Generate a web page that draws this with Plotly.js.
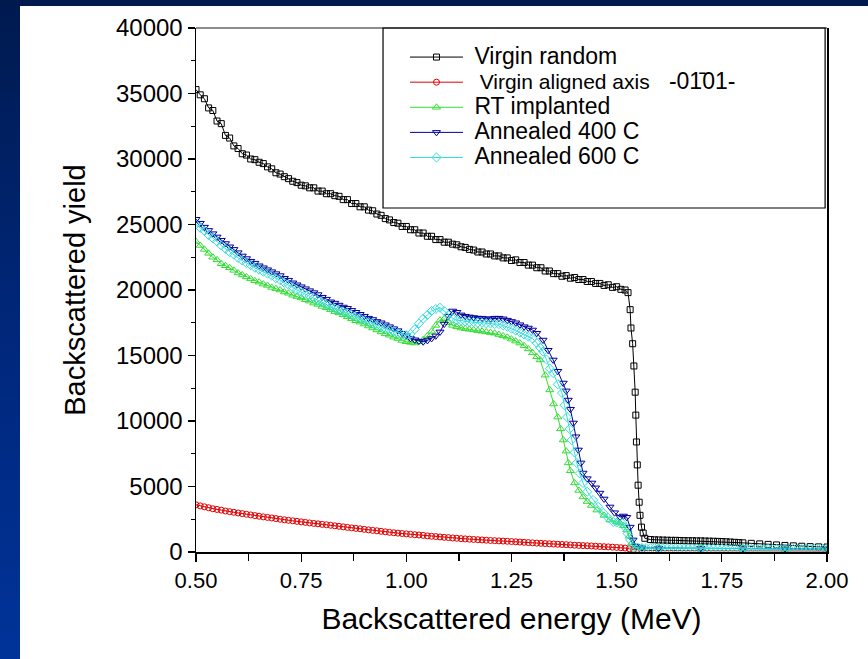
<!DOCTYPE html>
<html>
<head>
<meta charset="utf-8">
<script src="https://cdn.plot.ly/plotly-3.0.1.min.js"></script>
<style>
  html, body { margin:0; padding:0; width:868px; height:659px; overflow:hidden; }
  body { background: linear-gradient(180deg, #001a4f 0%, #00277a 50%, #003399 100%); position:relative; }
  #plot { position:absolute; left:20px; top:6px; width:848px; height:653px; background:#ffffff; }
</style>
</head>
<body>
<div id="plot"></div>
<script>
// Shared energy grid (MeV), 0.50 .. 1.30
const energyMain = [0.50,0.51,0.52,0.53,0.54,0.55,0.56,0.57,0.58,0.59,
  0.60,0.61,0.62,0.63,0.64,0.65,0.66,0.67,0.68,0.69,
  0.70,0.71,0.72,0.73,0.74,0.75,0.76,0.77,0.78,0.79,
  0.80,0.81,0.82,0.83,0.84,0.85,0.86,0.87,0.88,0.89,
  0.90,0.91,0.92,0.93,0.94,0.95,0.96,0.97,0.98,0.99,
  1.00,1.01,1.02,1.03,1.04,1.05,1.06,1.07,1.08,1.09,
  1.10,1.11,1.12,1.13,1.14,1.15,1.16,1.17,1.18,1.19,
  1.20,1.21,1.22,1.23,1.24,1.25,1.26,1.27,1.28,1.29,1.30];

// Virgin random
const randomMain = [35300,34900,34600,33900,33700,32900,32700,31800,31600,31000,
  30800,30400,30300,30000,29950,29750,29650,29400,29250,28950,
  28850,28650,28500,28300,28200,28000,27950,27800,27800,27550,
  27550,27350,27350,27200,27150,26900,26900,26600,26600,26350,
  26350,26100,26050,25800,25700,25450,25350,25150,25100,24850,
  24850,24600,24600,24350,24350,24100,24100,23850,23850,23650,
  23650,23500,23450,23300,23250,23100,23050,22900,22900,22750,
  22750,22600,22600,22450,22450,22250,22300,22100,22100,21900,21900];
const randomEdgeE = [1.31,1.32,1.33,1.34,1.35,1.36,1.37,1.38,1.39,1.40,1.41,1.42,1.43,1.44,1.45,1.46,1.47,1.48,1.49,1.50,1.51,1.52,1.527,
  1.532,1.534,1.538,1.541,1.544,1.5455,1.547,1.549,1.551,1.5535,1.5555,1.559,1.563,1.567,
  1.58,1.59,1.60,1.61,1.62,1.63,1.64,1.65,1.66,1.67,1.68,1.69,1.70,1.71,1.72,1.73,1.74,1.75,1.76,1.77,1.78,1.79,1.80,
  1.82,1.84,1.86,1.88,1.90,1.92,1.94,1.96,1.98,2.00];
const randomEdgeY = [21700,21700,21450,21450,21250,21250,21050,21100,20900,20950,20800,20800,20650,20650,20500,20500,20350,20400,20200,20250,20050,20000,19800,
  18500,17100,15900,14200,12200,10450,8400,6650,5100,3800,2800,1900,1450,1050,
  950,930,920,910,900,890,890,880,870,860,860,850,850,840,830,820,810,800,780,760,740,720,700,
  660,620,580,540,500,470,440,410,390,380];

// Virgin aligned axis
const alignedMain = [3600,3520,3450,3380,3300,3250,3200,3130,3080,3030,
  2980,2930,2880,2830,2780,2730,2680,2640,2600,2550,
  2500,2460,2420,2380,2340,2300,2260,2220,2180,2150,
  2110,2080,2040,2000,1960,1920,1880,1840,1800,1770,
  1730,1690,1650,1620,1580,1540,1500,1470,1440,1410,
  1380,1350,1320,1300,1270,1230,1200,1180,1150,1120,
  1100,1070,1050,1020,1000,980,960,940,920,900,
  880,865,850,835,820,800,780,760,740,720,700];
const alignedEdgeE = [1.31,1.32,1.33,1.34,1.35,1.36,1.37,1.38,1.39,1.40,1.41,1.42,1.43,1.44,1.45,1.46,1.47,1.48,1.49,1.50,1.51,1.52,1.53,1.54,1.56,1.60,1.70,1.80,1.90,2.00];
const alignedEdgeY = [680,660,645,630,610,590,575,560,540,520,505,490,475,460,440,420,405,390,370,350,325,300,250,200,130,110,100,90,80,70];

// RT implanted
const rtMain = [23700,23400,23100,22800,22500,22300,22000,21850,21700,21500,
  21300,21150,21000,20850,20700,20600,20450,20350,20200,20100,
  20000,19850,19750,19600,19500,19400,19250,19150,19000,18900,
  18750,18650,18500,18350,18250,18100,17950,17800,17650,17550,
  17400,17250,17100,16950,16800,16650,16550,16400,16300,16150,
  16050,16000,15950,16050,16200,16500,16850,17300,17700,17800,
  17500,17300,17200,17100,17050,17000,16950,16900,16850,16800,
  16750,16700,16600,16500,16400,16250,16100,15950,15750,15500,15200];
const rtEdgeE = [1.31,1.318,1.33,1.341,1.35,1.36,1.367,1.373,1.38,1.385,1.39,1.40,1.41,1.42,1.43,1.44,1.453,1.47,1.484,1.50,1.508,1.516,1.524,1.53,1.536,1.545,1.56,1.60,1.70,1.80,1.90,2.00];
const rtEdgeY = [14900,14660,13500,12370,11300,10300,9400,8550,7700,6800,6200,5270,4700,4200,3850,3550,3200,2800,2440,2300,2210,2000,1680,1200,690,400,320,300,280,260,240,220];

// Annealed 400 C
const a400Main = [25400,25100,24800,24550,24300,24050,23800,23550,23300,23100,
  22850,22600,22400,22200,22050,21850,21700,21550,21400,21250,
  21100,20900,20750,20550,20400,20250,20100,19950,19800,19650,
  19450,19300,19100,19000,18850,18700,18600,18450,18300,18150,
  18000,17850,17750,17600,17500,17350,17200,17050,16900,16700,
  16500,16300,16200,16100,16050,16150,16300,16500,16800,17400,
  18000,18400,18300,18100,18000,17950,17900,17850,17850,17800,
  17800,17850,17850,17800,17700,17600,17500,17350,17200,17100,16950];
const a400EdgeE = [1.31,1.325,1.337,1.349,1.36,1.373,1.38,1.385,1.39,1.397,1.403,1.409,1.415,1.42,1.43,1.441,1.45,1.46,1.47,1.484,1.495,1.508,1.516,1.524,1.532,1.539,1.545,1.56,1.60,1.70,1.80,1.90,2.00];
const a400EdgeY = [16700,16180,15400,14660,13800,12900,12300,11600,10900,9850,8800,7790,6800,6030,5600,5270,4900,4500,4050,3440,3000,2670,2750,2650,1900,920,450,320,300,280,260,240,220];

// Annealed 600 C
const a600Main = [25000,24750,24500,24200,23950,23700,23400,23150,22900,22700,
  22450,22250,22050,21900,21700,21550,21400,21250,21100,20900,
  20750,20550,20400,20200,20000,19850,19700,19550,19400,19200,
  19050,18900,18700,18600,18450,18350,18250,18100,17950,17850,
  17700,17550,17450,17300,17200,17050,16950,16850,16700,16600,
  16550,16650,17000,17450,17800,18100,18400,18550,18650,18400,
  18100,17850,17700,17650,17600,17550,17550,17500,17500,17450,
  17450,17400,17400,17300,17200,17050,16900,16750,16600,16450,16300];
const a600EdgeE = [1.31,1.318,1.325,1.333,1.341,1.349,1.36,1.37,1.376,1.382,1.388,1.393,1.40,1.405,1.412,1.42,1.43,1.444,1.456,1.468,1.48,1.492,1.50,1.513,1.52,1.526,1.532,1.539,
  1.55,1.56,1.57,1.58,1.59,1.60,1.61,1.62,1.63,1.64,1.65,1.66,1.67,1.68,1.69,1.70,1.71,1.72,1.73,1.74,1.75,1.76,1.77,1.78,1.79,1.80,
  1.81,1.82,1.83,1.84,1.85,1.86,1.87,1.88,1.89,1.90,1.91,1.92,1.93,1.94,1.95,1.96,1.97,1.98,1.99,2.00];
const a600EdgeY = [15950,15600,15300,14700,14000,13660,12800,12140,11200,10300,9400,8550,7600,6800,6000,5270,4600,3970,3450,2980,2600,2290,2250,2210,1900,1400,920,380,
  320,310,300,300,300,290,290,290,290,280,280,280,280,270,270,270,270,260,260,260,260,260,250,250,250,250,
  250,240,240,240,240,240,240,230,230,230,230,230,230,220,220,220,220,220,220,220];

const seriesNames = [
  'Virgin random',
  'Virgin aligned axis',
  'RT implanted',
  'Annealed 400 C',
  'Annealed 600 C'
];
const axisLabel = '-01\u030401-';

// legend labels: text larger than the legend's base line height
function big(t) { return '<span style="font-size:23px">\u00a0' + t + '</span>'; }
const legendLabels = [
  big(seriesNames[0]),
  '<span style="font-size:21px">\u00a0\u00a0' + seriesNames[1] + '</span><span style="font-size:23px">\u00a0\u00a0\u00a0' + axisLabel + '</span>',
  big(seriesNames[2]),
  big(seriesNames[3]),
  big(seriesNames[4])
];

function mk(name, x, y, color, symbol, size) {
  return {
    type: 'scatter', mode: 'lines+markers', name: name,
    x: x, y: y,
    line: {color: color, width: 1},
    marker: {symbol: symbol, size: size, color: color, line: {color: color, width: 1}}
  };
}

const traces = [
  mk(legendLabels[0], energyMain.concat(randomEdgeE), randomMain.concat(randomEdgeY), '#000000', 'square-open', 6),
  mk(legendLabels[1], energyMain.concat(alignedEdgeE), alignedMain.concat(alignedEdgeY), '#e00000', 'circle-open', 6),
  mk(legendLabels[2], energyMain.concat(rtEdgeE), rtMain.concat(rtEdgeY), '#33dd33', 'triangle-up-open', 7),
  mk(legendLabels[3], energyMain.concat(a400EdgeE), a400Main.concat(a400EdgeY), '#000099', 'triangle-down-open', 7),
  mk(legendLabels[4], energyMain.concat(a600EdgeE), a600Main.concat(a600EdgeY), '#33dddd', 'diamond-open', 7)
];

const layout = {
  width: 848, height: 653,
  margin: {l: 176, r: 41, t: 22, b: 107, pad: 0},
  paper_bgcolor: '#ffffff', plot_bgcolor: '#ffffff',
  font: {family: '"Liberation Sans", Arial, sans-serif', color: '#000', size: 22},
  showlegend: true,
  legend: {
    x: 0.3312, xanchor: 'left', y: 0.978, yanchor: 'top',
    bgcolor: 'rgba(0,0,0,0)', borderwidth: 0,
    font: {size: 17, color: '#000'},
    itemwidth: 53, traceorder: 'normal'
  },
  xaxis: {
    range: [0.5, 2.0], tick0: 0.5, dtick: 0.25, tickformat: '.2f',
    ticks: 'outside', ticklen: 8, tickwidth: 1.3, tickcolor: '#000',
    showline: true, linecolor: '#000', linewidth: 1.5,
    showgrid: false, zeroline: false,
    tickfont: {size: 22},
    minor: {dtick: 0.125, ticks: 'outside', ticklen: 7, tickwidth: 1.3, tickcolor: '#000', showgrid: false},
    title: {text: 'Backscattered energy (MeV)', font: {size: 30}, standoff: 16}
  },
  yaxis: {
    range: [0, 40000], tick0: 0, dtick: 5000, tickformat: 'd',
    ticks: 'outside', ticklen: 7, tickwidth: 1.3, tickcolor: '#000',
    showline: true, linecolor: '#000', linewidth: 1.5, mirror: true,
    showgrid: false, zeroline: false,
    tickfont: {size: 24},
    minor: {dtick: 2500, ticks: 'outside', ticklen: 4, tickwidth: 1.3, tickcolor: '#000', showgrid: false},
    title: {text: 'Backscattered yield\u00a0\u00a0\u00a0\u00a0\u00a0', font: {size: 29}, standoff: 22}
  },
  shapes: [
    {type: 'line', xref: 'paper', yref: 'paper', x0: 0, x1: 1, y0: 1, y1: 1, line: {color: '#666666', width: 1.5}},
    {type: 'rect', xref: 'paper', yref: 'paper', x0: 0.2964, x1: 0.997, y0: 0.6565, y1: 1, line: {color: '#000000', width: 1.2}, fillcolor: 'rgba(0,0,0,0)'}
  ]
};

Plotly.newPlot('plot', traces, layout, {staticPlot: true, displayModeBar: false});
</script>
</body>
</html>
